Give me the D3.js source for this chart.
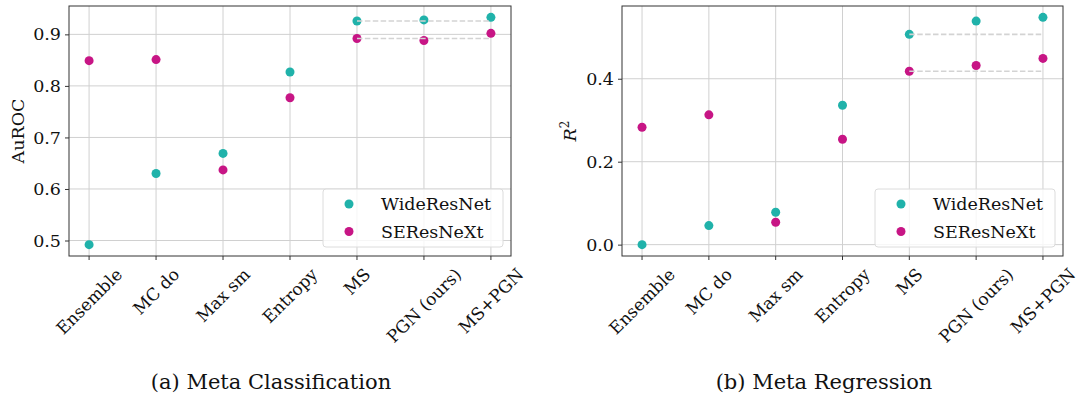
<!DOCTYPE html>
<html>
<head>
<meta charset="utf-8">
<script src="https://cdn.jsdelivr.net/npm/d3@7"></script>
<style>
  html, body { margin: 0; padding: 0; background: #fff; }
  svg { display: block; }
  text { font-family: "DejaVu Serif", serif; fill: #111; }
</style>
</head>
<body>
<svg id="fig" width="1078" height="394"></svg>
<script>
// Uncertainty methods compared on the x axis
const methods = ["Ensemble", "MC do", "Max sm", "Entropy", "MS", "PGN (ours)", "MS+PGN"];

// Meta classification (AuROC)
const aurocWideResNet = [0.492, 0.630, 0.669, 0.827, 0.926, 0.928, 0.933];
const aurocSEResNeXt  = [0.849, 0.851, 0.637, 0.777, 0.892, 0.888, 0.902];
const aurocTicks = [0.5, 0.6, 0.7, 0.8, 0.9];

// Meta regression (R^2)
const r2WideResNet = [0.000, 0.046, 0.078, 0.336, 0.507, 0.539, 0.548];
const r2SEResNeXt  = [0.283, 0.313, 0.054, 0.254, 0.418, 0.432, 0.449];
const r2Ticks = [0.0, 0.2, 0.4];

const seriesNames = ["WideResNet", "SEResNeXt"];
const seriesColors = ["#20b2aa", "#c71585"];

const svg = d3.select("#fig");

function panel(cfg) {
  const { left, right, top, bottom } = cfg.box;
  const g = svg.append("g");

  // matplotlib-style 5% padding of the data range
  const all = cfg.series.flat();
  const [lo, hi] = d3.extent(all);
  const pad = (hi - lo) * 0.05;
  const y = d3.scaleLinear().domain([lo - pad, hi + pad]).range([bottom, top]);
  const xi = d3.scaleLinear().domain([-0.3, methods.length - 1 + 0.3]).range([left, right]);

  // grid
  g.append("g").selectAll("line.gx").data(methods).join("line")
    .attr("x1", (d, i) => xi(i)).attr("x2", (d, i) => xi(i))
    .attr("y1", top).attr("y2", bottom)
    .attr("stroke", "#d0d0d0").attr("stroke-width", 1);
  g.append("g").selectAll("line.gy").data(cfg.ticks).join("line")
    .attr("x1", left).attr("x2", right)
    .attr("y1", d => y(d)).attr("y2", d => y(d))
    .attr("stroke", "#d0d0d0").attr("stroke-width", 1);

  // axes frame
  g.append("rect")
    .attr("x", left).attr("y", top)
    .attr("width", right - left).attr("height", bottom - top)
    .attr("fill", "none").attr("stroke", "#333").attr("stroke-width", 1);

  // y axis
  const yAxis = d3.axisLeft(y).tickValues(cfg.ticks).tickFormat(d3.format(".1f"))
    .tickSize(4).tickPadding(4);
  const ya = g.append("g").attr("transform", `translate(${left},0)`).call(yAxis);
  ya.select(".domain").remove();
  ya.selectAll(".tick line").attr("stroke", "#333");
  ya.selectAll(".tick text").attr("font-size", 17.5).attr("font-family", "DejaVu Serif").attr("fill", "#111");

  // x axis ticks
  const xa = g.append("g").attr("transform", `translate(0,${bottom})`);
  xa.selectAll("line").data(methods).join("line")
    .attr("x1", (d, i) => xi(i)).attr("x2", (d, i) => xi(i))
    .attr("y1", 0).attr("y2", 4).attr("stroke", "#333");

  // rotated tick labels, bounding box centred under each tick
  const fs = 17, h = fs * 1.05, labelTop = bottom + 9;
  methods.forEach((m, i) => {
    const t = g.append("text")
      .attr("font-size", fs)
      .attr("text-anchor", "middle")
      .attr("dominant-baseline", "central")
      .text(m);
    const w = t.node().getComputedTextLength();
    const half = (w + h) / (2 * Math.SQRT2);
    t.attr("transform", `translate(${xi(i)},${labelTop + half}) rotate(-45)`);
  });

  // y label
  const yl = g.append("text")
    .attr("transform", `translate(${cfg.ylabelX},${(top + bottom) / 2}) rotate(-90)`)
    .attr("text-anchor", "middle")
    .attr("font-size", 17.5);
  cfg.ylabel(yl);

  // scatter points
  cfg.series.forEach((vals, s) => {
    g.append("g").selectAll("circle").data(vals).join("circle")
      .attr("cx", (d, i) => xi(i)).attr("cy", d => y(d))
      .attr("r", 4.5).attr("fill", seriesColors[s]);
  });

  // dashed reference lines at the MS level
  const msIdx = methods.indexOf("MS");
  cfg.series.forEach(vals => {
    g.append("line")
      .attr("x1", xi(msIdx)).attr("x2", xi(methods.length - 1))
      .attr("y1", y(vals[msIdx])).attr("y2", y(vals[msIdx]))
      .attr("stroke", "#d3d3d3").attr("stroke-width", 1.6)
      .attr("stroke-dasharray", "5.5,2.4");
  });

  // legend
  const lw = 180, lh = 58;
  const lx = right - 8 - lw, ly = bottom - 9 - lh;
  const leg = g.append("g").attr("transform", `translate(${lx},${ly})`);
  leg.append("rect").attr("width", lw).attr("height", lh).attr("rx", 3)
    .attr("fill", "rgba(255,255,255,0.8)").attr("stroke", "#dcdcdc").attr("stroke-width", 1);
  seriesNames.forEach((name, s) => {
    const cy = 15 + s * 27.5;
    leg.append("circle").attr("cx", 26).attr("cy", cy).attr("r", 4.5).attr("fill", seriesColors[s]);
    leg.append("text").attr("x", 58).attr("y", cy).attr("dominant-baseline", "central")
      .attr("font-size", 17.5).text(name);
  });

  // caption
  svg.append("text")
    .attr("x", cfg.captionX).attr("y", 389)
    .attr("text-anchor", "middle").attr("font-size", 21)
    .text(cfg.caption);
}

panel({
  box: { left: 69, right: 511, top: 6, bottom: 256 },
  series: [aurocWideResNet, aurocSEResNeXt],
  ticks: aurocTicks,
  ylabelX: 24,
  ylabel: t => t.text("AuROC"),
  caption: "(a) Meta Classification",
  captionX: 271
});

panel({
  box: { left: 622, right: 1063, top: 6, bottom: 256 },
  series: [r2WideResNet, r2SEResNeXt],
  ticks: r2Ticks,
  ylabelX: 576,
  ylabel: t => {
    t.append("tspan").attr("font-style", "italic").text("R");
    t.append("tspan").attr("font-size", 12).attr("dy", -7).text("2");
  },
  caption: "(b) Meta Regression",
  captionX: 824
});
</script>
</body>
</html>
